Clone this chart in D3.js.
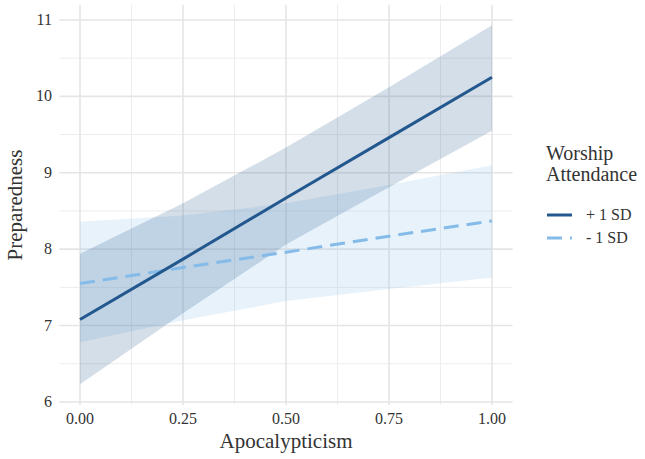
<!DOCTYPE html>
<html><head><meta charset="utf-8">
<script src="https://cdn.jsdelivr.net/npm/d3@7"></script>
<style>body{margin:0;background:#fff}svg{display:block}text{font-family:"Liberation Serif","DejaVu Serif",serif;fill:#333}</style>
</head><body><svg id="c" width="645" height="459"></svg>
<script>
const xVals = [0, 0.25, 0.5, 0.75, 1.0];
const plusFit = [7.08, 7.87, 8.67, 9.46, 10.25];
const plusUpper = [7.94, 8.60, 9.33, 10.12, 10.93];
const plusLower = [6.23, 7.16, 8.06, 8.81, 9.55];
const minusFit = [7.55, 7.76, 7.96, 8.17, 8.37];
const minusUpper = [8.36, 8.44, 8.60, 8.84, 9.10];
const minusLower = [6.78, 7.07, 7.32, 7.48, 7.63];
const xTicks = [0, 0.25, 0.5, 0.75, 1.0];
const yTicks = [6, 7, 8, 9, 10, 11];
const seriesNames = ["+ 1 SD", "- 1 SD"];

const svg = d3.select("#c");
const x = d3.scaleLinear().domain([-0.05, 1.05]).range([59.4, 512.6]);
const y = d3.scaleLinear().domain([5.96, 11.2]).range([405, 4.7]);
const L = 59.4, R = 512.6, T = 4.7, B = 405;

// grid
const g = svg.append("g");
const minorX = [0.125, 0.375, 0.625, 0.875];
const minorY = [6.5, 7.5, 8.5, 9.5, 10.5];
g.selectAll(".mx").data(minorX).join("line").attr("x1", d=>x(d)).attr("x2", d=>x(d)).attr("y1", T).attr("y2", B).attr("stroke", "#ededed").attr("stroke-width", 1);
g.selectAll(".my").data(minorY).join("line").attr("y1", d=>y(d)).attr("y2", d=>y(d)).attr("x1", L).attr("x2", R).attr("stroke", "#ededed").attr("stroke-width", 1);
g.selectAll(".Mx").data(xTicks).join("line").attr("x1", d=>x(d)).attr("x2", d=>x(d)).attr("y1", T).attr("y2", B).attr("stroke", "#e5e5e5").attr("stroke-width", 1.6);
g.selectAll(".My").data(yTicks).join("line").attr("y1", d=>y(d)).attr("y2", d=>y(d)).attr("x1", L).attr("x2", R).attr("stroke", "#e5e5e5").attr("stroke-width", 1.6);

const area = (lo, hi) => d3.area().x((d,i)=>x(xVals[i])).y0((d,i)=>y(lo[i])).y1((d,i)=>y(hi[i]))(xVals);
const line = (v) => d3.line().x((d,i)=>x(xVals[i])).y((d,i)=>y(v[i]))(xVals);

svg.append("path").attr("d", area(minusLower, minusUpper)).attr("fill", "#86bde9").attr("fill-opacity", 0.2);
svg.append("path").attr("d", area(plusLower, plusUpper)).attr("fill", "#2a5a8e").attr("fill-opacity", 0.2);
svg.append("path").attr("d", line(minusFit)).attr("fill", "none").attr("stroke", "#85bbe8").attr("stroke-width", 3).attr("stroke-dasharray", "15,8");
svg.append("path").attr("d", line(plusFit)).attr("fill", "none").attr("stroke", "#23588f").attr("stroke-width", 3);

// axes labels
svg.selectAll(".xt").data(xTicks).join("text").attr("x", d=>x(d)).attr("y", 424).attr("text-anchor", "middle").attr("font-size", 16).text(d=>d3.format(".2f")(d));
svg.selectAll(".yt").data(yTicks).join("text").attr("x", 52).attr("y", d=>y(d)+5).attr("text-anchor", "end").attr("font-size", 16).text(d=>d);
svg.append("text").attr("x", 286).attr("y", 448).attr("text-anchor", "middle").attr("font-size", 21).text("Apocalypticism");
svg.append("text").attr("transform", "translate(22,205) rotate(-90)").attr("text-anchor", "middle").attr("font-size", 21).text("Preparedness");

// legend
svg.append("text").attr("x", 546).attr("y", 160).attr("font-size", 20).text("Worship");
svg.append("text").attr("x", 546).attr("y", 181).attr("font-size", 20).text("Attendance");
const keyY = [215, 238];
const keyStyle = [{c:"#23588f", d:null}, {c:"#85bbe8", d:"15,8"}];
seriesNames.forEach((n,i)=>{
  svg.append("line").attr("x1", 547).attr("x2", 572).attr("y1", keyY[i]).attr("y2", keyY[i]).attr("stroke", keyStyle[i].c).attr("stroke-width", 3).attr("stroke-dasharray", keyStyle[i].d);
  svg.append("text").attr("x", 586).attr("y", keyY[i]+5).attr("font-size", 16).text(n);
});
</script></body></html>
